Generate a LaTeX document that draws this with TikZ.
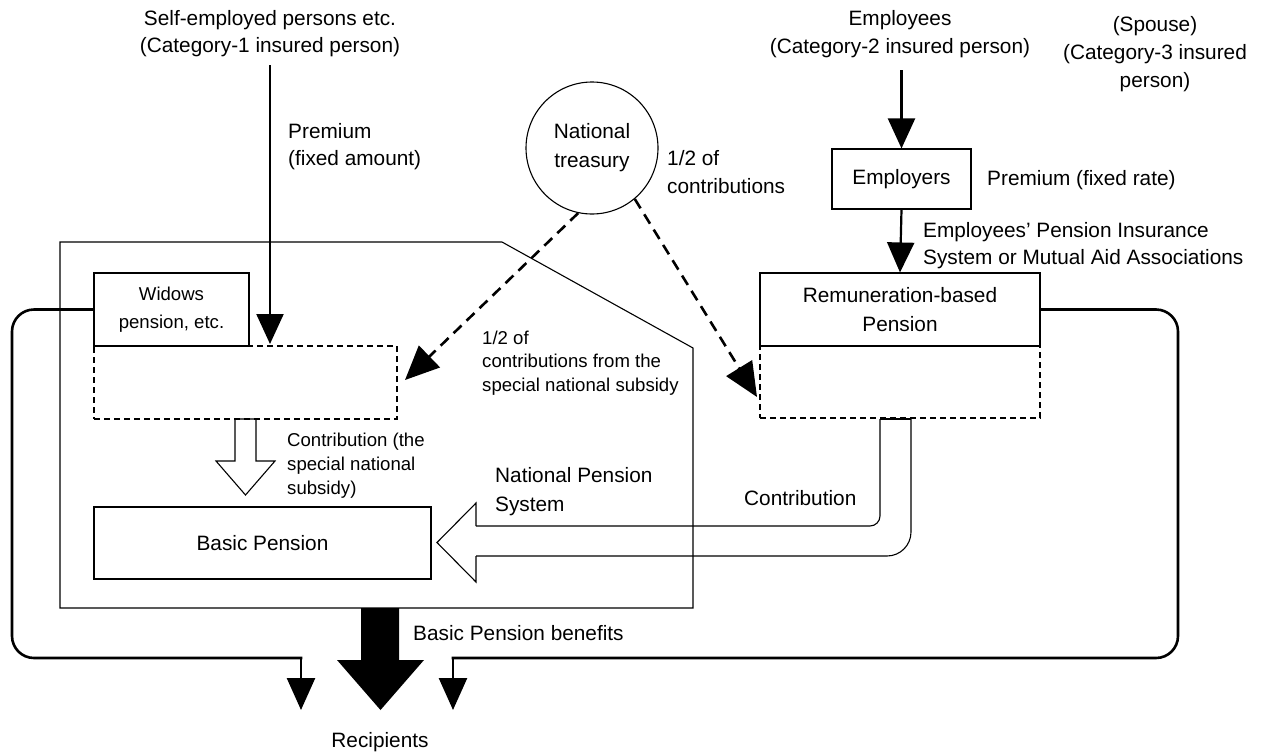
\documentclass[tikz,border=0pt]{standalone}
\usepackage{fontspec}
\setmainfont{Liberation Sans}
\usetikzlibrary{arrows.meta}
\newcommand\fB[1]{\fontsize{20.8}{#1}\selectfont}
\newcommand\fS[1]{\fontsize{18.6}{#1}\selectfont}
\begin{document}
\begin{tikzpicture}[x=1pt,y=-1pt,
  txt/.style={inner sep=0pt, align=left, anchor=west},
  ctxt/.style={inner sep=0pt, align=center},
  box/.style={draw, line width=1.1pt, inner sep=0pt, align=center},
  dbox/.style={draw, line width=1.1pt, dash pattern=on 6pt off 4pt, inner sep=0pt},
  thinline/.style={line width=1.1pt},
  conn/.style={line width=2.6pt, rounded corners=22pt, line cap=rect},
  smallarr/.style={line width=2.6pt, -{Triangle[length=32pt,width=28pt]}},
  feedarr/.style={line width=2.2pt, -{Triangle[length=30pt,width=27pt]}},
  darr/.style={line width=2.6pt, dash pattern=on 11pt off 7pt, -{Triangle[length=34pt,width=30pt]}},
]
\useasboundingbox (0,0) rectangle (1264,753);

% outer National Pension System frame
\draw[thinline] (60,242) -- (502,242) -- (693,348) -- (693,608) -- (60,608) -- cycle;

% top texts
\node[ctxt, font=\fB{27}] (cat1) at (270,33.5) {Self-employed persons etc.\\(Category-1 insured person)};
\node[ctxt, font=\fB{28}] (cat2) at (900,34) {Employees\\(Category-2 insured person)};
\node[ctxt, font=\fB{28}] (cat3) at (1155,54) {(Spouse)\\(Category-3 insured\\person)};
\node[txt, font=\fB{27}] (prem1) at (288,146.5) {Premium\\(fixed amount)};

% national treasury
\node[circle, draw, line width=1.1pt, minimum size=132pt, inner sep=0pt, align=center, font=\fB{29}] (treas) at (592,148) {National\\treasury};
\node[txt, font=\fB{28}] (half1) at (667,172) {1/2 of\\contributions};

% employers
\node[box, minimum width=139pt, minimum height=60pt, font=\fB{25}] (emp) at (901.5,179) {Employers};
\node[txt, font=\fB{25}] (premrate) at (987,180) {Premium (fixed rate)};
\node[txt, font=\fB{27}] (epi) at (923,245.5) {Employees’ Pension Insurance\\System or Mutual Aid Associations};

% remuneration-based pension
\node[box, minimum width=280pt, minimum height=73pt, font=\fB{29}] (rem) at (900,309.5) {Remuneration-based\\Pension};
\node[dbox, minimum width=280pt, minimum height=72pt] (remd) at (900,382) {};

% left side boxes
\node[box, minimum width=155pt, minimum height=73pt, font=\fS{28}] (wid) at (171.5,309.5) {Widows\\pension, etc.};
\node[dbox, minimum width=303pt, minimum height=73pt] (dl) at (245.5,382.5) {};
\node[box, minimum width=337pt, minimum height=72pt, font=\fB{25}] (basic) at (262.5,543) {Basic Pension};

% texts
\node[txt, font=\fS{23.5}] (half2) at (482,363) {1/2 of\\contributions from the\\special national subsidy};
\node[txt, font=\fS{24}] (contr1) at (287,466) {Contribution (the\\special national\\subsidy)};
\node[txt, font=\fB{29}] (nps) at (495,491.5) {National Pension\\System};
\node[txt, font=\fB{25}] (contr2) at (744,498) {Contribution};
\node[txt, font=\fB{25}] (bpb) at (413,633) {Basic Pension benefits};
\node[ctxt, font=\fB{25}] (recip) at (380,742) {Recipients};

% coordinates
\coordinate (p1s) at (270,65);
\coordinate (p1e) at (270,344);
\coordinate (e1s) at (901.5,70);
\coordinate (dlt) at (405,380);
\coordinate (drt) at (757,397);
\coordinate (lc1) at (12,309.5);
\coordinate (lc2) at (12,658);
\coordinate (lc3) at (301,658);
\coordinate (lt) at (301,710);
\coordinate (rc1) at (1178,309.5);
\coordinate (rc2) at (1178,658);
\coordinate (rc3) at (453,658);
\coordinate (rt) at (453,710);

% premium arrows
\draw[feedarr] (p1s) -- (p1e);
\draw[feedarr] (e1s) -- (emp.north);
\draw[feedarr] (emp.south) -- (rem.north);

% dashed subsidy arrows
\draw[darr] (treas.258) -- (dlt);
\draw[darr] (treas.310) -- (drt);

% hollow down arrow (contribution, special national subsidy)
\draw[thinline] (235,419) -- (235,461) -- (216,461) -- (245.5,495) -- (275,461) -- (256,461) -- (256,419) -- cycle;

% hollow left arrow (contribution)
\draw[thinline, rounded corners=10pt] (880,419) -- (880,526) -- (476,526);
\draw[thinline] (476,526) -- (476,503) -- (437,542.5) -- (476,582) -- (476,556);
\draw[thinline, rounded corners=24pt] (476,556) -- (911,556) -- (911,419);
\draw[thinline] (911,419) -- (880,419);

% black benefits arrow
\fill (361,608) -- (361,660) -- (337,660) -- (380.5,710) -- (424,660) -- (399,660) -- (399,608) -- cycle;

% side connectors to recipients
\draw[conn] (wid.west) -- (lc1) -- (lc2) -- (lc3);
\draw[smallarr] (301,657) -- (lt);
\draw[conn] (rem.east) -- (rc1) -- (rc2) -- (rc3);
\draw[smallarr] (453,657) -- (rt);
\end{tikzpicture}
\end{document}
